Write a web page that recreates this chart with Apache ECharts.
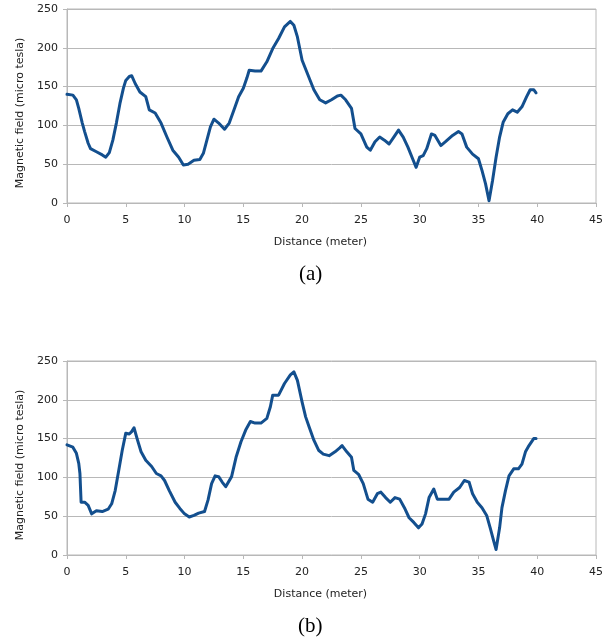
<!DOCTYPE html>
<html>
<head>
<meta charset="utf-8">
<script src="https://cdn.jsdelivr.net/npm/echarts@6/dist/echarts.min.js"></script>
<style>
html,body{margin:0;padding:0;background:#fff;}
#c{width:611px;height:640px;}
</style>
</head>
<body>
<div id="c"></div>
<script>
// Chart (a)
const distA = [0,0.5,0.8,1.0,1.3,1.5,1.8,2.0,2.5,3.0,3.3,3.6,3.9,4.2,4.5,4.8,5.0,5.3,5.5,5.8,6.2,6.7,7.0,7.5,8.0,8.5,9.0,9.5,9.9,10.3,10.8,11.3,11.6,11.9,12.2,12.5,12.9,13.4,13.8,14.2,14.6,15.0,15.3,15.5,16.0,16.5,17.0,17.5,18.0,18.5,19.0,19.3,19.6,20.0,20.5,21.0,21.5,22.0,22.5,23.0,23.3,23.7,24.2,24.5,25.0,25.5,25.8,26.2,26.6,27.0,27.4,27.8,28.2,28.6,29.0,29.4,29.7,30.0,30.3,30.6,31.0,31.3,31.8,32.2,32.8,33.3,33.6,34.0,34.5,35.0,35.3,35.6,35.9,36.2,36.5,36.8,37.1,37.5,37.9,38.3,38.7,39.1,39.4,39.7,39.9];
const magA  = [140,139,133,122,103,92,77,70,66,62,59,65,81,103,128,148,158,163,164,154,143,137,120,116,103,85,68,59,49,50,55,56,64,81,98,108,103,95,103,120,137,148,161,171,170,170,182,199,212,227,234,229,214,184,165,146,133,129,133,138,139,133,122,96,89,72,68,79,85,81,76,85,94,85,72,57,46,59,61,70,89,87,74,79,87,92,89,72,63,57,42,25,3,29,59,85,104,115,120,117,124,137,146,146,142];
// Chart (b)
const distB = [0,0.5,0.8,1.0,1.1,1.2,1.5,1.8,2.1,2.5,3.0,3.5,3.8,4.1,4.4,4.7,5.0,5.3,5.5,5.7,6.0,6.3,6.7,7.2,7.6,8.0,8.3,8.7,9.2,9.6,10.0,10.4,10.8,11.2,11.7,12.0,12.3,12.6,12.9,13.2,13.5,14.0,14.4,14.8,15.2,15.6,16.0,16.5,17.0,17.3,17.5,18.0,18.5,19.0,19.3,19.6,20.0,20.3,20.6,21.0,21.4,21.8,22.3,22.8,23.2,23.4,23.8,24.2,24.4,24.8,25.2,25.6,26.0,26.4,26.7,27.1,27.5,27.9,28.3,28.7,29.1,29.5,29.9,30.2,30.5,30.8,31.2,31.5,32.0,32.5,32.9,33.4,33.8,34.2,34.5,34.9,35.3,35.7,36.0,36.3,36.5,36.8,37.0,37.3,37.6,38.0,38.4,38.7,39.0,39.3,39.7,39.9];
const magB  = [142,139,131,118,105,68,68,64,53,57,56,59,66,83,109,135,157,156,159,164,148,133,122,114,105,102,96,83,68,60,53,49,51,54,56,71,92,102,101,94,88,101,127,146,161,172,170,170,176,191,206,206,221,232,236,225,197,178,165,148,135,130,128,133,138,141,133,126,109,104,92,72,68,79,81,74,68,74,72,61,48,42,35,40,53,74,85,72,72,72,81,87,96,94,79,68,61,51,35,18,7,35,61,83,102,111,111,117,133,141,150,150];

const xTicks = [0,5,10,15,20,25,30,35,40,45];
const yTicks = [0,50,100,150,200,250];
const xName = 'Distance (meter)';
const yName = 'Magnetic field (micro tesla)';
const captions = ['(a)','(b)'];

const lineColor = '#134f8e';
const gridCol = '#b8b8b8';
const sansFont = 'DejaVu Sans, Liberation Sans, sans-serif';
const labelStyle = {color:'#222', fontSize:11, fontFamily:sansFont};

function xAx(gi){
  return {type:'value', gridIndex:gi, min:xTicks[0], max:xTicks[xTicks.length-1], interval:5,
    name:xName, nameLocation:'middle', nameGap:34,
    nameTextStyle:{color:'#222', fontSize:11, fontFamily:sansFont, padding:[0,22,0,0]},
    axisLine:{show:true, lineStyle:{color:gridCol, width:1}},
    axisTick:{show:true, inside:false, length:4, lineStyle:{color:gridCol}},
    axisLabel:Object.assign({margin:12}, labelStyle),
    splitLine:{show:false}};
}
function yAx(gi){
  return {type:'value', gridIndex:gi, min:yTicks[0], max:yTicks[yTicks.length-1], interval:50,
    name:yName, nameLocation:'middle', nameGap:41,
    nameTextStyle:{color:'#222', fontSize:11, fontFamily:sansFont, padding:[0,14,0,0]},
    axisLine:{show:true, lineStyle:{color:gridCol, width:1}},
    axisTick:{show:true, inside:false, length:4, lineStyle:{color:gridCol}},
    axisLabel:Object.assign({margin:9}, labelStyle),
    splitLine:{show:true, lineStyle:{color:gridCol, width:1}}};
}
function ser(gi, xs, ys){
  return {type:'line', xAxisIndex:gi, yAxisIndex:gi, showSymbol:false, symbol:'none',
    data: xs.map((x,i)=>[x, ys[i]]),
    lineStyle:{color:lineColor, width:3, join:'round', cap:'round'}, animation:false};
}

const chart = echarts.init(document.getElementById('c'), null, {renderer:'canvas'});
chart.setOption({
  backgroundColor:'#fff',
  animation:false,
  grid:[
    {left:67, top:9, width:529, height:194, show:true, borderColor:gridCol, borderWidth:1},
    {left:67, top:361, width:529, height:194, show:true, borderColor:gridCol, borderWidth:1}
  ],
  title:[
    {text:captions[0], left:308-14, top:259, textStyle:{fontFamily:'Liberation Serif, Times New Roman, serif', fontSize:21, fontWeight:'normal', color:'#000'}},
    {text:captions[1], left:307-14, top:611, textStyle:{fontFamily:'Liberation Serif, Times New Roman, serif', fontSize:21, fontWeight:'normal', color:'#000'}}
  ],
  xAxis:[xAx(0), xAx(1)],
  yAxis:[yAx(0), yAx(1)],
  series:[ser(0, distA, magA), ser(1, distB, magB)]
});
</script>
</body>
</html>
